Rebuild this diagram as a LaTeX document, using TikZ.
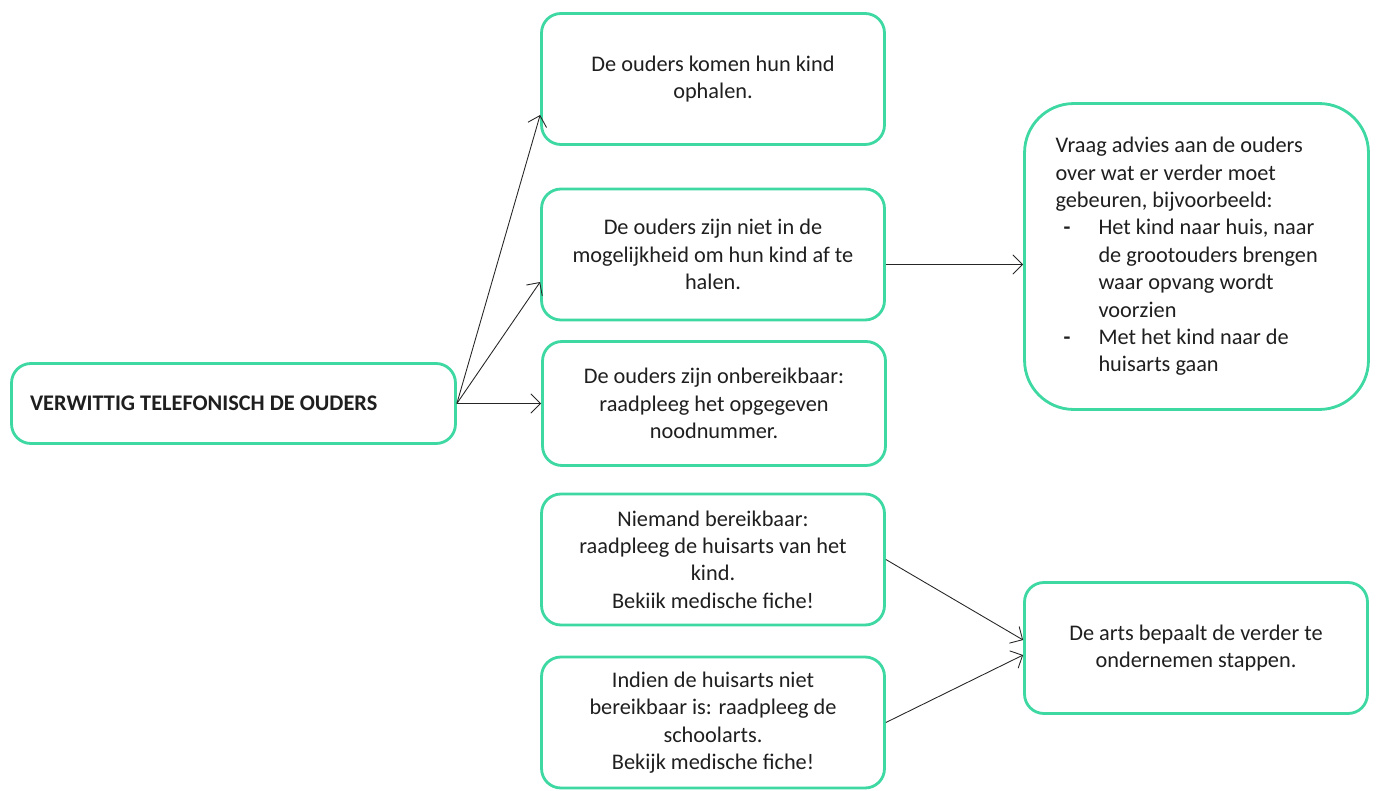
\documentclass[tikz,border=0pt]{standalone}
\usepackage{fontspec}
\setmainfont{Carlito}
\usetikzlibrary{positioning,calc,arrows.meta}
\definecolor{mint}{RGB}{62,216,163}
\newcommand{\boxfont}{\fontsize{12.7}{15.6}\selectfont}
\tikzset{gbox/.style={draw=mint, line width=1.6pt, rounded corners=11pt, fill=white, minimum width=6.86cm, minimum height=2.62cm, align=center, font=\boxfont, text=black!88}}
\tikzset{gboxL/.style={gbox, align=flush left}}
\tikzset{arr/.style={draw, -{Straight Barb[length=5.5pt,width=11pt]}, line width=0.5pt, black!85}}
\newcommand{\streep}{\makebox[0.86cm][l]{\hspace{0.16cm}\textbf{-}}}
\newcommand{\inspring}{\hspace*{0.86cm}}

\begin{document}
\begin{tikzpicture}[x=0.02cm, y=-0.02cm]
\useasboundingbox (0,0) rectangle (1376,791);
				\node[gboxL, minimum width=8.88cm, minimum height=1.6cm, text width=8.14cm, inner xsep=0.37cm, font=\boxfont\bfseries] (bel) at (233.5,403.5) {VERWITTIG TELEFONISCH DE OUDERS};
				%
				\node[gbox] (ophalen) at (713,79) {De ouders komen hun kind\\ophalen.};
				\node[gbox] (nietafhalen) at (713,254.5) {De ouders zijn niet in de\\mogelijkheid om hun kind af te\\halen.};
				\node[gbox, minimum height=2.48cm] (onbereik) at (714,403.5) {De ouders zijn onbereikbaar:\\raadpleeg het opgegeven\\noodnummer.};
				\node[gbox] (niemand) at (713,559.5) {Niemand bereikbaar:\\raadpleeg de huisarts van het\\kind.\\Bekiik medische fiche!};
				\node[gbox] (huisarts) at (713,722.5) {Indien de huisarts niet\\bereikbaar is: raadpleeg de\\schoolarts.\\Bekijk medische fiche!};
				%
				\node[gboxL, minimum width=6.88cm, minimum height=6.12cm, text width=5.64cm, rounded corners=28pt] (advies) at (1196.5,256.5)
					{Vraag advies aan de ouders\\over wat er verder moet\\gebeuren, bijvoorbeeld:\\
					\streep Het kind naar huis, naar\\\inspring de grootouders brengen\\\inspring waar opvang wordt\\\inspring voorzien\\
					\streep Met het kind naar de\\\inspring huisarts gaan};
				\node[gbox] (arts) at (1196,648) {De arts bepaalt de verder te\\ondernemen stappen.};
				%
				\draw[arr] (bel.east) to ([yshift=-0.72cm]ophalen.west);
				\draw[arr] (bel.east) to ([yshift=-0.55cm]nietafhalen.west);
				\draw[arr] (bel.east) to (onbereik.west);
				\draw[arr] ([yshift=-0.2cm]nietafhalen.east) to ([yshift=-0.2cm]nietafhalen.east -| advies.west);
				\draw[arr] (niemand.east) to ([yshift=0.16cm]arts.west);
				\draw[arr] (huisarts.east) to ([yshift=-0.14cm]arts.west);
			\end{tikzpicture}
\end{document}
